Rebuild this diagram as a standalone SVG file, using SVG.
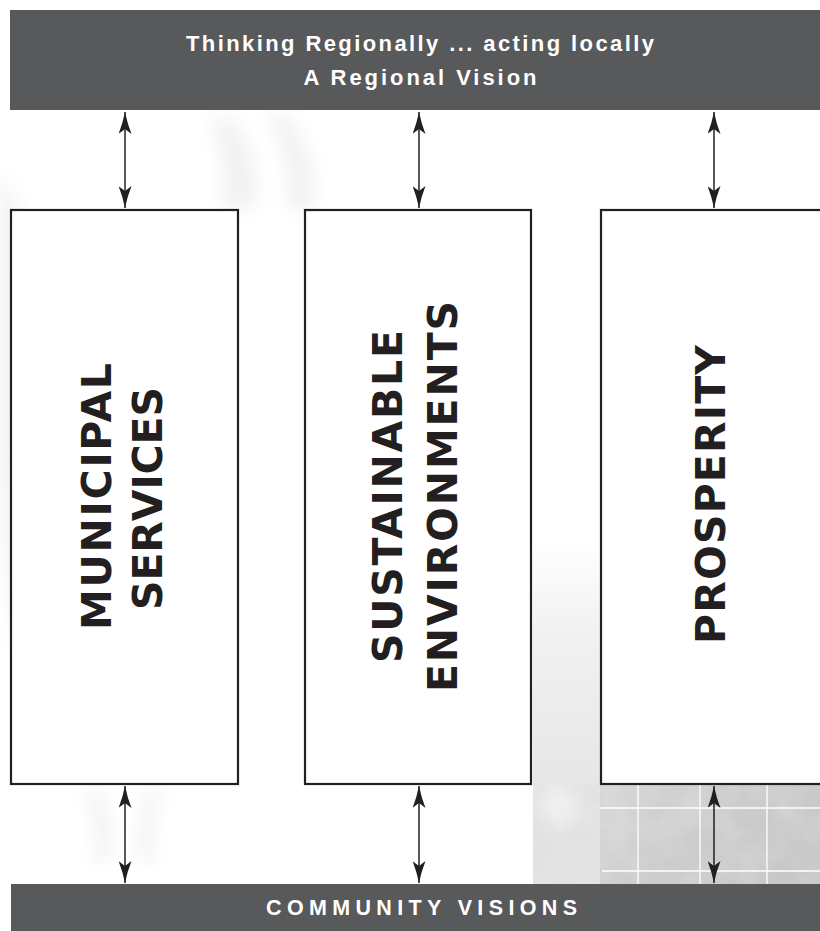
<svg xmlns="http://www.w3.org/2000/svg" width="820" height="931" viewBox="0 0 820 931">
  <style>
    .bar { fill: #58595b; }
    .bar-text { font-family: "Liberation Sans", Arial, sans-serif; font-weight: 700; fill: #ffffff; text-anchor: middle; }
    .box { fill: #ffffff; stroke: #231f20; stroke-width: 2.2; }
    .label { font-family: "DejaVu Sans", "Liberation Sans", sans-serif; font-weight: 700; font-size: 41px; fill: #231f20; text-anchor: middle; }
    .conn { stroke: #231f20; stroke-width: 1.5; fill: none; marker-start: url(#head); marker-end: url(#head); }
    .grid { stroke: #ffffff; stroke-width: 1.3; }
  </style>
  <defs>
    <marker id="head" viewBox="0 0 22 13" refX="22" refY="6.5" markerWidth="22" markerHeight="13" markerUnits="userSpaceOnUse" orient="auto-start-reverse">
      <path d="M0,0 Q10,4 22,6.5 Q10,9 0,13 L5,6.5 Z" fill="#231f20"/>
    </marker>
    <linearGradient id="gap" x1="0" y1="0" x2="0" y2="1">
      <stop offset="0" stop-color="#ffffff"/>
      <stop offset="0.35" stop-color="#f2f2f2"/>
      <stop offset="1" stop-color="#e6e6e6"/>
    </linearGradient>
    <linearGradient id="photo" x1="0" y1="0" x2="1" y2="0.4">
      <stop offset="0" stop-color="#d6d6d6"/>
      <stop offset="0.5" stop-color="#cdcdcd"/>
      <stop offset="1" stop-color="#c8c8c8"/>
    </linearGradient>
    <filter id="blur" x="-50%" y="-30%" width="200%" height="160%">
      <feGaussianBlur stdDeviation="9"/>
    </filter>
    <filter id="mottle" x="0" y="0" width="100%" height="100%">
      <feTurbulence type="fractalNoise" baseFrequency="0.025" numOctaves="3" seed="4" result="n"/>
      <feColorMatrix in="n" type="matrix" values="0 0 0 0 1  0 0 0 0 1  0 0 0 0 1  0.9 0 0 0 -0.35" result="w"/>
      <feComposite in="w" in2="SourceGraphic" operator="in"/>
    </filter>
  </defs>

  <g id="background">
    <rect x="0" y="0" width="820" height="931" fill="#ffffff"/>
    <g fill="#ececec" filter="url(#blur)" opacity="0.7">
      <path d="M0,170 C35,230 45,330 32,420 C22,500 32,580 45,650 L22,660 C6,580 0,500 0,420 Z"/>
      <path d="M228,115 C255,145 262,180 252,210 L222,210 C226,180 222,150 212,120 Z"/>
      <path d="M285,112 C308,140 318,175 312,210 L288,210 C290,175 284,145 268,118 Z"/>
      <path d="M165,790 C152,810 150,835 154,862 L140,862 C136,835 140,810 150,790 Z"/>
      <path d="M100,790 C110,815 114,840 110,862 L96,862 C98,840 94,815 86,790 Z"/>
    </g>
    <rect x="533" y="540" width="68" height="245" fill="url(#gap)"/>
    <rect x="533" y="785" width="67" height="99" fill="#e2e2e2"/>
    <ellipse cx="560" cy="805" rx="20" ry="18" fill="#f0f0f0" filter="url(#blur)"/>
    <rect x="600" y="785" width="220" height="99" fill="url(#photo)"/>
    <rect x="533" y="785" width="287" height="99" fill="#888888" filter="url(#mottle)" opacity="0.45"/>
    <g class="grid">
      <line x1="638" y1="785" x2="638" y2="884"/>
      <line x1="700" y1="785" x2="700" y2="884"/>
      <line x1="767" y1="785" x2="767" y2="884"/>
      <line x1="599" y1="808" x2="820" y2="808"/>
      <line x1="602" y1="871" x2="820" y2="871"/>
    </g>
  </g>

  <g id="regional-vision">
    <rect class="bar" x="10" y="10" width="812" height="100"/>
    <text class="bar-text" x="420" y="51" font-size="22" textLength="468" lengthAdjust="spacing">Thinking Regionally ... acting locally</text>
    <text class="bar-text" x="420" y="85" font-size="22" textLength="233" lengthAdjust="spacing">A Regional Vision</text>
  </g>

  <g id="community-visions">
    <rect class="bar" x="11" y="884" width="811" height="47"/>
    <text class="bar-text" x="421.5" y="914.5" font-size="21.5" textLength="311" lengthAdjust="spacing">COMMUNITY VISIONS</text>
  </g>

  <g id="municipal-services">
    <rect class="box" x="11" y="210" width="227" height="574"/>
    <text class="label" transform="translate(111,496.5) rotate(-90)" x="0" y="0" textLength="267" lengthAdjust="spacing">MUNICIPAL</text>
    <text class="label" transform="translate(162,498.5) rotate(-90)" x="0" y="0" textLength="223" lengthAdjust="spacing">SERVICES</text>
  </g>

  <g id="sustainable-environments">
    <rect class="box" x="305" y="210" width="226" height="574"/>
    <text class="label" transform="translate(402,496.5) rotate(-90)" x="0" y="0" textLength="333" lengthAdjust="spacing">SUSTAINABLE</text>
    <text class="label" transform="translate(457,496.5) rotate(-90)" x="0" y="0" textLength="391" lengthAdjust="spacing">ENVIRONMENTS</text>
  </g>

  <g id="prosperity">
    <rect class="box" x="601" y="210" width="232" height="574"/>
    <text class="label" transform="translate(725,494.5) rotate(-90)" x="0" y="0" textLength="299" lengthAdjust="spacing">PROSPERITY</text>
  </g>

  <g id="connectors">
    <line class="conn" x1="125" y1="112" x2="125" y2="208"/>
    <line class="conn" x1="419" y1="112" x2="419" y2="208"/>
    <line class="conn" x1="714" y1="112" x2="714" y2="208"/>
    <line class="conn" x1="125" y1="786" x2="125" y2="883"/>
    <line class="conn" x1="419" y1="786" x2="419" y2="883"/>
    <line class="conn" x1="714" y1="786" x2="714" y2="883"/>
  </g>
</svg>
